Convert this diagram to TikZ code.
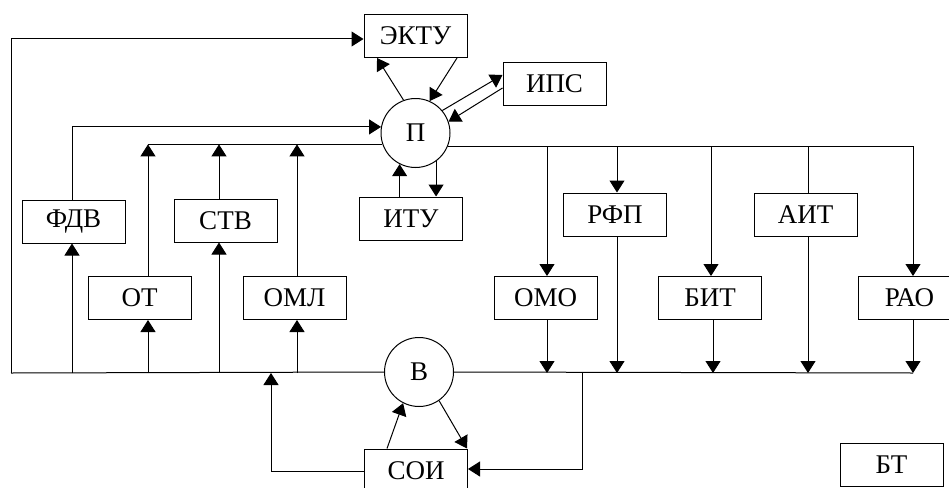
\documentclass[tikz,border=0pt]{standalone}
\usepackage{fontspec}
\setmainfont{Liberation Serif}
\usetikzlibrary{arrows.meta}
\begin{document}
\begin{tikzpicture}[x=1pt,y=-1pt,
  line width=1pt,
  blk/.style={draw, minimum width=103pt, minimum height=43pt, inner sep=0pt,
    font=\fontsize{27}{29}\selectfont},
  rnd/.style={draw, circle, minimum size=69pt, inner sep=0pt,
    font=\fontsize{27}{29}\selectfont},
  arr/.style={-{Triangle[length=12pt,width=15pt]}}]
\useasboundingbox (0,0) rectangle (949,487);
\clip (0,0) rectangle (949,487);
% nodes
\node[rnd] (P) at (415.5,133) {П};
\node[rnd] (V) at (419,372) {В};
\node[blk] (EKTU) at (415.5,36) {ЭКТУ};
\node[blk] (IPS) at (554.5,83.5) {ИПС};
\node[blk] (ITU) at (411,218.5) {ИТУ};
\node[blk] (FDV) at (73.5,221.5) {ФДВ};
\node[blk] (STV) at (225.5,220.5) {СТВ};
\node[blk] (OT) at (139.5,298) {ОТ};
\node[blk] (OML) at (294.5,298) {ОМЛ};
\node[blk] (RFP) at (615,214.5) {РФП};
\node[blk] (AIT) at (805.5,214.5) {АИТ};
\node[blk] (OMO) at (545.5,298) {ОМО};
\node[blk] (BIT) at (710,298) {БИТ};
\node[blk] (RAO) at (909.5,298) {РАО};
\node[blk] (SOI) at (416,470.5) {СОИ};
\node[blk] (BT) at (891.5,464.5) {БТ};
% column coordinates
\coordinate (c1) at (72,0);
\coordinate (c2) at (148,0);
\coordinate (c3) at (219,0);
\coordinate (c4) at (297,0);
\coordinate (d1) at (547,0);
\coordinate (d2) at (617,0);
\coordinate (d3) at (711,0);
\coordinate (d4) at (808,0);
\coordinate (d5) at (913,0);
\coordinate (tl) at (11,39);
\coordinate (bl) at (11,373);
\coordinate (br) at (913,373);
\coordinate (soiL) at (271,471);
\coordinate (soiR) at (582,469);
% outer loop to ЭКТУ
\draw[arr] (bl) -- (tl) -- (tl -| EKTU.west);
% ЭКТУ <-> П
\draw[arr] (P.110) -- ([xshift=-38.5pt]EKTU.south);
\draw[arr] ([xshift=41.5pt]EKTU.south) -- (P.66);
% ИПС <-> П
\draw[arr] (P.40) -- ([yshift=8.5pt]IPS.west);
\draw[arr] ([yshift=-4.5pt]IPS.west) -- (P.19);
% ИТУ <-> П
\draw[arr] (P.243 |- ITU.north) -- (P.243);
\draw[arr] (P.306) -- (P.306 |- ITU.north);
% ФДВ -> П
\draw[arr] (c1 |- FDV.north) -- (c1 |- P.170) -- (P.170);
% collector line at y=144 into П
\draw (c2 |- P.199) -- (P.199);
\draw[arr] (c2 |- OT.north) -- (c2 |- P.199);
\draw[arr] (c3 |- STV.north) -- (c3 |- P.199);
\draw[arr] (c4 |- OML.north) -- (c4 |- P.199);
% bottom bus
\draw (bl) -- (V.west);
\draw (V.east) -- (br);
\draw[arr] (c1 |- bl) -- (c1 |- FDV.south);
\draw[arr] (c2 |- bl) -- (c2 |- OT.south);
\draw[arr] (c3 |- bl) -- (c3 |- STV.south);
\draw[arr] (c4 |- bl) -- (c4 |- OML.south);
% top right bus from П
\draw (P.338) -- (d5 |- P.338);
\draw[arr] (d1 |- P.338) -- (d1 |- OMO.north);
\draw[arr] (d2 |- P.338) -- (d2 |- RFP.north);
\draw[arr] (d3 |- P.338) -- (d3 |- BIT.north);
\draw (d4 |- P.338) -- (d4 |- AIT.north);
\draw[arr] (d5 |- P.338) -- (d5 |- RAO.north);
% down to bottom bus
\draw[arr] (d1 |- OMO.south) -- (d1 |- br);
\draw[arr] (d2 |- RFP.south) -- (d2 |- br);
\draw[arr] ([xshift=2pt]d3 |- BIT.south) -- ([xshift=2pt]d3 |- br);
\draw[arr] (d4 |- AIT.south) -- (d4 |- br);
\draw[arr] (d5 |- RAO.south) -- (d5 |- br);
% СОИ loops
\draw[arr] (SOI.west |- soiL) -- (soiL) -- (soiL |- bl);
\draw[arr] (soiR |- br) -- (soiR) -- (soiR -| SOI.east);
\draw[arr] ([xshift=-29pt]SOI.north) -- (V.243);
\draw[arr] (V.305) -- ([xshift=-1pt]SOI.north east);
\end{tikzpicture}
\end{document}
